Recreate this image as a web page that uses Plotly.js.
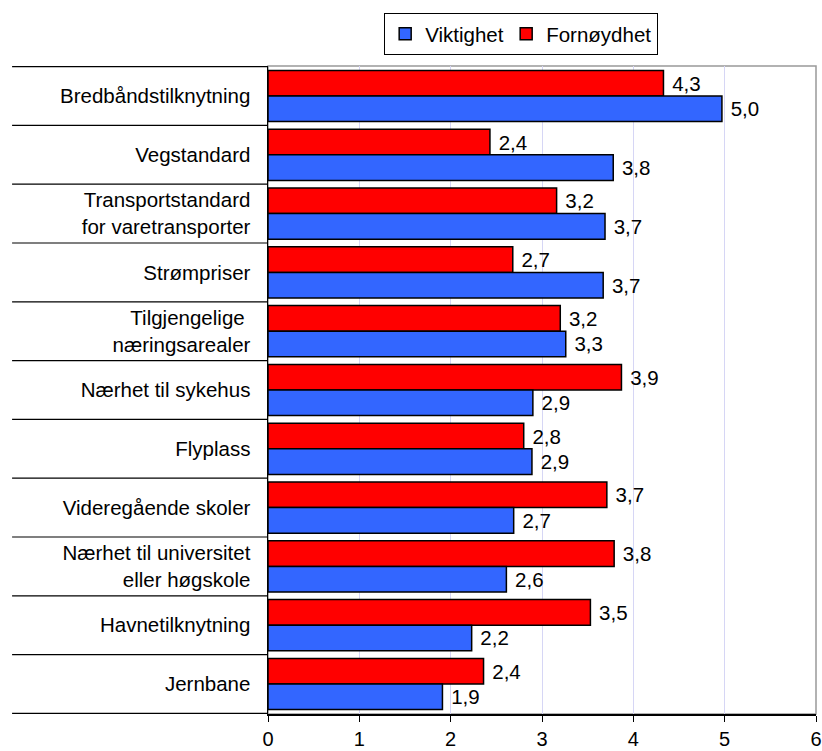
<!DOCTYPE html>
<html>
<head>
<meta charset="utf-8">
<script src="https://cdn.plot.ly/plotly-3.0.1.min.js"></script>
<style>html,body{margin:0;padding:0;background:#fff;}#chart{width:822px;height:751px;}</style>
</head>
<body>
<div id="chart"></div>
<script>
var categories = [
  "Bredbåndstilknytning",
  "Vegstandard",
  "Transportstandard<br>for varetransporter",
  "Strømpriser",
  "Tilgjengelige <br>næringsarealer",
  "Nærhet til sykehus",
  "Flyplass",
  "Videregående skoler",
  "Nærhet til universitet<br>eller høgskole",
  "Havnetilknytning",
  "Jernbane"
];
var viktighet  = [4.97, 3.78, 3.69, 3.67, 3.26, 2.90, 2.89, 2.69, 2.61, 2.23, 1.91];
var fornoydhet = [4.33, 2.43, 3.16, 2.68, 3.20, 3.87, 2.80, 3.71, 3.79, 3.53, 2.36];
var xTicks = [0, 1, 2, 3, 4, 5, 6];

function fmt(v){ return '\u00a0' + v.toFixed(1).replace('.', ','); }

var FONT = "Liberation Sans, Arial, Helvetica, sans-serif";
var FS = 20.5;

var traces = [
  {
    type: 'bar', orientation: 'h', name: 'Fornøydhet',
    y: categories, x: fornoydhet,
    text: fornoydhet.map(fmt), textposition: 'outside', cliponaxis: false,
    textfont: {family: FONT, size: FS, color: '#000'},
    marker: {color: '#ff0000', line: {color: '#000', width: 1.5}},
    hoverinfo: 'x+y'
  },
  {
    type: 'bar', orientation: 'h', name: 'Viktighet', legendwidth: 76,
    y: categories, x: viktighet,
    text: viktighet.map(fmt), textposition: 'outside', cliponaxis: false,
    textfont: {family: FONT, size: FS, color: '#000'},
    marker: {color: '#3366ff', line: {color: '#000', width: 1.5}},
    hoverinfo: 'x+y'
  }
];

var shapes = [{
  type: 'rect', xref: 'paper', yref: 'paper', x0: 0, x1: 1, y0: 0, y1: 1,
  line: {color: '#999999', width: 1.5}, layer: 'below'
}];
for (var i = 0; i <= categories.length; i++) {
  shapes.push({
    type: 'line', xref: 'paper', yref: 'y',
    x0: -0.467, x1: 0, y0: i - 0.5, y1: i - 0.5,
    line: {color: '#000', width: 1.2}
  });
}

var layout = {
  width: 822, height: 751,
  margin: {l: 268, r: 6, t: 66, b: 37, pad: 0},
  paper_bgcolor: '#fff', plot_bgcolor: '#fff',
  font: {family: FONT, size: FS, color: '#000'},
  barmode: 'group', bargap: 0.13, bargroupgap: 0,
  showlegend: true,
  legend: {
    orientation: 'h', traceorder: 'reversed',
    x: 0.462, xanchor: 'center', y: 1.082, yanchor: 'top',
    bordercolor: '#000', borderwidth: 1, bgcolor: '#fff',
    font: {family: FONT, size: FS, color: '#000'},
    itemwidth: 30, tracegroupgap: 0
  },
  xaxis: {
    range: [0, 6], tickvals: xTicks, ticktext: xTicks.map(String),
    showgrid: true, gridcolor: '#d6d6f5', gridwidth: 1,
    zeroline: false, showline: true, linecolor: '#000', linewidth: 1.5,
    ticks: 'outside', ticklen: 6, tickcolor: '#000', tickwidth: 1,
    tickfont: {family: FONT, size: 20, color: '#000'},
    ticklabelstandoff: 0, fixedrange: true
  },
  yaxis: {
    type: 'category', autorange: 'reversed',
    showgrid: false, zeroline: false, showline: true, linecolor: '#000', linewidth: 1.5,
    ticks: '', ticklabelstandoff: 12,
    tickfont: {family: FONT, size: FS, color: '#000'}, fixedrange: true
  },
  shapes: shapes
};

Plotly.newPlot('chart', traces, layout, {displayModeBar: false, staticPlot: true});
</script>
</body>
</html>
